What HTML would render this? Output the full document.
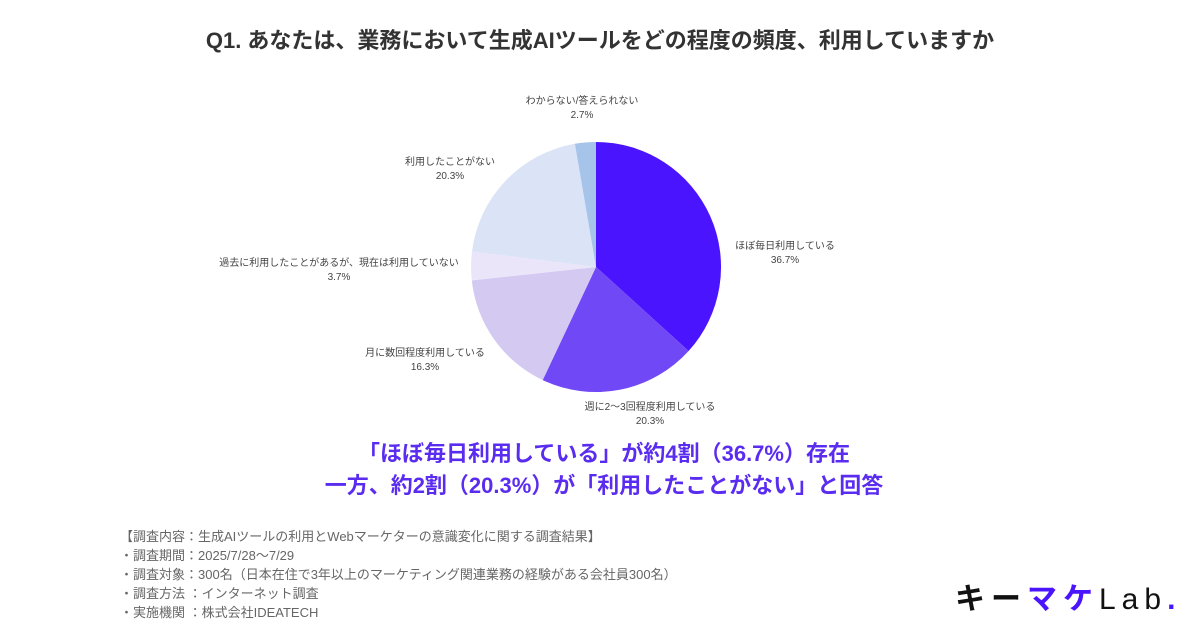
<!DOCTYPE html>
<html><head><meta charset="utf-8"><style>
body{margin:0;width:1200px;height:630px;background:#fff;position:relative;overflow:hidden;font-family:"Liberation Sans","Noto Sans CJK JP",sans-serif;}
.t{position:absolute;white-space:nowrap}
.lbl{position:absolute;font-size:10px;color:#444;text-align:center;line-height:14px;white-space:nowrap}
</style></head><body>
<div class="t" style="left:0;width:1200px;top:23px;text-align:center;font-size:22px;font-weight:bold;color:#333">Q1. あなたは、業務において生成AIツールをどの程度の頻度、利用していますか</div>
<svg width="1200" height="630" style="position:absolute;left:0;top:0">
<path d="M596,267 L596,142 A125,125 0 0 1 688.6,351 Z" fill="#4a14ff"/>
<path d="M596,267 L688.6,351 A125,125 0 0 1 542.7,380.1 Z" fill="#7148f5"/>
<path d="M596,267 L542.7,380.1 A125,125 0 0 1 471.8,280.4 Z" fill="#d3c9f1"/>
<path d="M596,267 L471.8,280.4 A125,125 0 0 1 472,251.4 Z" fill="#ebe5fa"/>
<path d="M596,267 L472,251.4 A125,125 0 0 1 574.9,143.8 Z" fill="#dbe3f7"/>
<path d="M596,267 L574.9,143.8 A125,125 0 0 1 596,142 Z" fill="#a6c3ea"/>
</svg>
<div class="lbl" style="left:500px;width:164px;top:95px">わからない/答えられない<br>2.7%</div>
<div class="lbl" style="left:380px;width:140px;top:156px">利用したことがない<br>20.3%</div>
<div class="lbl" style="left:715px;width:140px;top:240px">ほぼ毎日利用している<br>36.7%</div>
<div class="lbl" style="left:184px;width:310px;top:257px">過去に利用したことがあるが、現在は利用していない<br>3.7%</div>
<div class="lbl" style="left:345px;width:160px;top:347px">月に数回程度利用している<br>16.3%</div>
<div class="lbl" style="left:560px;width:180px;top:401px">週に2〜3回程度利用している<br>20.3%</div>
<div class="t" style="left:0;width:1208px;top:438px;text-align:center;font-size:22px;font-weight:bold;color:#5a2cf0;line-height:32px">「ほぼ毎日利用している」が約4割（36.7%）存在<br>一方、約2割（20.3%）が「利用したことがない」と回答</div>
<div class="t" style="left:120px;top:527px;font-size:13px;color:#666;line-height:19px">【調査内容：生成AIツールの利用とWebマーケターの意識変化に関する調査結果】<br>・調査期間：2025/7/28〜7/29<br>・調査対象：300名（日本在住で3年以上のマーケティング関連業務の経験がある会社員300名）<br>・調査方法 ：インターネット調査<br>・実施機関 ：株式会社IDEATECH</div>
<div class="t" style="left:955px;top:582px;font-size:30px;font-weight:bold;color:#111;letter-spacing:6px;line-height:36px">キー<span style="color:#4a14ff">マケ</span><span style="font-weight:normal">Lab</span><span style="color:#4a14ff">.</span></div>
</body></html>
